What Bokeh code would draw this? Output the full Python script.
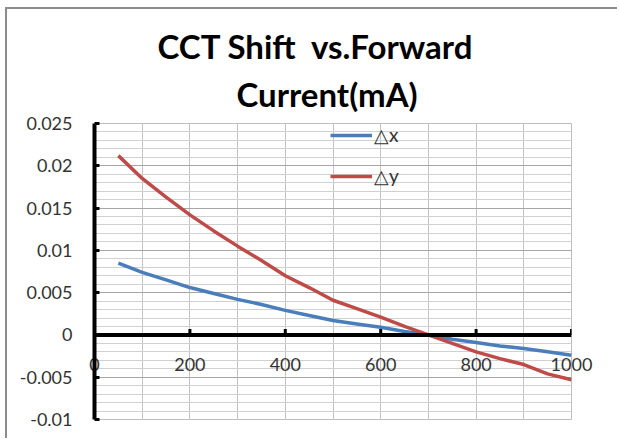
from bokeh.plotting import figure
from bokeh.models import (Range1d, SingleIntervalTicker, FixedTicker, NumeralTickFormatter,
                          Span, Title, Legend, LegendItem)
from bokeh.embed import file_html
from bokeh.resources import INLINE

# ---- data ----
current = [50, 100, 150, 200, 250, 300, 350, 400, 450, 500,
           550, 600, 650, 700, 750, 800, 850, 900, 950, 1000]
delta_x = [0.0085, 0.0074, 0.0065, 0.0056, 0.0049, 0.0042, 0.0036, 0.0029, 0.0023, 0.0017,
           0.0013, 0.0009, 0.0004, 0.0000, -0.0005, -0.0009, -0.0013, -0.0016, -0.0020, -0.0024]
delta_y = [0.0212, 0.0185, 0.0163, 0.0142, 0.0123, 0.0105, 0.0088, 0.0070, 0.0056, 0.0041,
           0.0031, 0.0021, 0.0010, 0.0000, -0.0010, -0.0020, -0.0028, -0.0035, -0.0046, -0.0053]
x_ticks = [0, 200, 400, 600, 800, 1000]
x_grid = [0, 100, 200, 300, 400, 500, 600, 700, 800, 900, 1000]
title_lines = ["CCT Shift \u00a0vs.Forward", "Current(mA)"]
series_names = ["\u25b3x", "\u25b3y"]

FONT = "Lato"

p = figure(width=612, height=431, output_backend="svg", toolbar_location=None,
           x_range=Range1d(0, 1000), y_range=Range1d(-0.01, 0.025),
           min_border_left=87, min_border_right=48, min_border_top=114, min_border_bottom=21,
           styles={"margin-left": "5px", "margin-top": "7px",
                   "border-left": "2px solid #8c8c8c", "border-top": "2px solid #8c8c8c"})
p.title = None
p.background_fill_color = "white"
p.border_fill_color = "white"
p.outline_line_color = "#bdbdbd"

# grids
p.xgrid.ticker = FixedTicker(ticks=x_grid)
p.xgrid.grid_line_color = "#c4c4c4"
p.xgrid.grid_line_width = 1
yt = SingleIntervalTicker(interval=0.005, num_minor_ticks=5)
p.yaxis.ticker = yt
p.ygrid.ticker = yt
p.ygrid.grid_line_color = "#a6a6a6"
p.ygrid.minor_grid_line_color = "#d0d0d0"

# y axis
p.yaxis.formatter = NumeralTickFormatter(format="0.[000]")
p.yaxis.axis_line_color = "black"
p.yaxis.axis_line_width = 4
p.yaxis.major_tick_line_width = 3
p.yaxis.major_tick_in = 5
p.yaxis.major_tick_out = 0
p.yaxis.minor_tick_line_color = None
p.yaxis.major_label_standoff = 18
p.yaxis.major_label_text_font = FONT
p.yaxis.major_label_text_font_size = "18px"
p.yaxis.major_label_text_color = "#333333"

# x axis (labels only; drawn up inside the frame like Excel)
p.xaxis.ticker = FixedTicker(ticks=x_ticks)
p.xaxis.axis_line_color = None
p.xaxis.major_tick_line_color = None
p.xaxis.minor_tick_line_color = None
p.xaxis.major_tick_out = 0
p.xaxis.major_tick_in = 0
p.xaxis.major_label_standoff = -62
p.xaxis.major_label_text_font = FONT
p.xaxis.major_label_text_font_size = "18px"
p.xaxis.major_label_text_color = "#333333"

# zero line acting as the x axis, with small tick marks
p.add_layout(Span(location=0, dimension="width", line_color="black", line_width=4))
p.segment(x0=x_ticks, y0=[0] * len(x_ticks), x1=x_ticks, y1=[0.0007] * len(x_ticks),
          line_color="black", line_width=3)

r1 = p.line(current, delta_x, line_color="#4A7EBB", line_width=3.5)
r2 = p.line(current, delta_y, line_color="#BE4B48", line_width=3.5)

legend = Legend(items=[LegendItem(label=series_names[0], renderers=[r1]),
                       LegendItem(label=series_names[1], renderers=[r2])],
                location=(236, 232), orientation="vertical")
legend.background_fill_alpha = 0
legend.border_line_alpha = 0
legend.glyph_width = 42
legend.glyph_height = 20
legend.label_height = 20
legend.spacing = 18
legend.padding = 0
legend.margin = 0
legend.label_standoff = 2
legend.label_text_font = FONT
legend.label_text_font_size = "19px"
legend.label_text_color = "#333333"
p.add_layout(legend)

# title (two lines), inner line first
for txt, off, so, va in zip(reversed(title_lines), [142, 63], [16, 0], ["top", "bottom"]):
    p.add_layout(Title(text=txt, align="left", offset=off, standoff=so, vertical_align=va,
                       text_font=FONT, text_font_style="bold", text_font_size="33px",
                       text_color="black"), "above")

open("out.html", "w").write(file_html(p, INLINE))
